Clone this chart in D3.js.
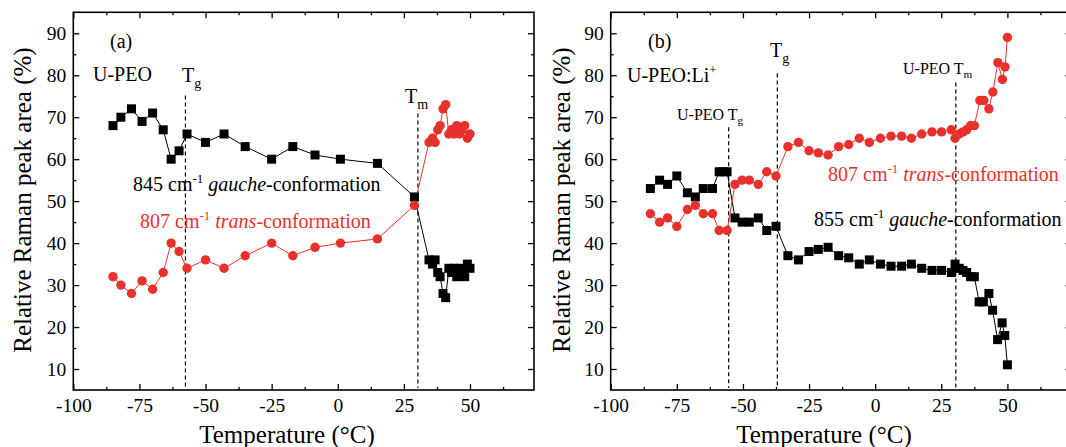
<!DOCTYPE html>
<html><head><meta charset="utf-8">
<script src="https://cdn.jsdelivr.net/npm/d3@7"></script>
<style>
body{margin:0;background:#fff}
svg{display:block}
text{font-family:"Liberation Serif","Times New Roman",serif;fill:#000}
</style>
</head><body>
<svg id="c" width="1066" height="447"></svg>
<script>
// ---------- tick values ----------
const xTicks = [-100, -75, -50, -25, 0, 25, 50];
const xMinor = [-87.5, -62.5, -37.5, -12.5, 12.5, 37.5, 62.5];
const yTicks = [10, 20, 30, 40, 50, 60, 70, 80, 90];
const yMinor = [15, 25, 35, 45, 55, 65, 75, 85];

// ---------- panel (a): U-PEO ----------
const tempA   = [-85, -82, -78, -74, -70, -66, -63, -60, -57, -50, -43, -35, -25, -17, -8.6, 1, 15, 29,
                 34.5, 35.8, 36.8, 37.8, 38.7, 39.8, 40.8, 42, 43, 44, 45, 46, 47, 48, 49, 50];
const gaucheA = [68, 70, 72, 69, 71, 67, 60, 62, 66, 64, 66, 63, 60, 63, 61, 60, 59, 51,
                 36, 35, 36, 33, 32, 28, 27, 34, 33, 34, 32, 34, 33, 32, 35, 34];
const transA  = [32, 30, 28, 31, 29, 33, 40, 38, 34, 36, 34, 37, 40, 37, 39, 40, 41, 49,
                 64, 65, 64, 67, 68, 72, 73, 66, 67, 66, 68, 66, 67, 68, 65, 66];
const vlinesA = [{x: -57.6, top: 75.2}, {x: 30.3, top: 70.9}];

// ---------- panel (b): U-PEO:Li+ ----------
const tempBg  = [-85, -81.5, -78.5, -75, -71, -68, -65, -61.5, -59, -57.5, -56, -53, -50.3, -47.6, -44.2, -41, -37.5,
                 -33, -29, -25, -21.5, -17.8, -13.8, -10, -6, -2.2, 2, 6, 10, 13.7, 17.6, 21.5, 25.1,
                 28.8, 30.2, 31.8, 33.2, 34.6, 36.1, 37.5, 39.3, 40.9, 43, 44.4, 46.3, 48, 49, 50];
const gaucheB = [53, 55, 54, 56, 52, 51, 53, 53, 57, 57, 57, 46, 45, 45, 46, 43, 44,
                 37, 36, 38, 38.5, 39, 37, 36.5, 35, 36, 35, 34.5, 34.5, 35, 34, 33.5, 33.5,
                 33, 35, 34, 33.5, 33, 32, 32, 26, 26, 28, 24, 17, 21, 18, 11];
const tempBt  = [-85, -81.5, -78.5, -75, -71, -68, -65, -61.5, -59, -56, -53, -50.3, -47.6, -44.2, -41, -37.5,
                 -33, -29, -25, -21.5, -17.8, -13.8, -10, -6, -2.2, 2, 6, 10, 13.7, 17.6, 21.5, 25.1,
                 28.8, 30.2, 31.8, 33.2, 34.6, 36.1, 37.5, 39.6, 41.1, 43, 44.5, 46.4, 48.1, 49.1, 50];
const transB  = [47, 45, 46, 44, 48, 49, 47, 47, 43, 43, 54, 55, 55, 54, 57, 56,
                 63, 64, 62, 61.5, 61, 63, 63.5, 65, 64, 65, 65.5, 65.5, 65, 66, 66.5, 66.5,
                 67, 65, 66, 66.5, 67, 68, 68, 74, 74, 72, 76, 83, 79, 82, 89];
const vlinesB = [{x: -55.4, top: 67.6}, {x: -37.0, top: 80.4}, {x: 30.5, top: 78.3}];

const RED = "#e8312c";
const svg = d3.select("#c");
const TOP = 12.3, W = 460.7, H = 377.7;

function panel(left, blackX, blackY, redX, redY, vlines) {
  const x = d3.scaleLinear().domain([-100, 74.2]).range([0, W]);
  const y = d3.scaleLinear().domain([5, 95]).range([H, 0]);
  const g = svg.append("g").attr("transform", `translate(${left},${TOP})`);

  const styleAxis = sel => {
    sel.select(".domain").remove();
    sel.selectAll(".tick line").attr("stroke", "#000").attr("stroke-width", 1.3);
    sel.selectAll(".tick text").attr("font-size", 19.5).attr("font-family", '"Liberation Serif",serif').attr("fill", "#000");
  };
  // bottom
  g.append("g").attr("transform", `translate(0,${H})`)
    .call(d3.axisBottom(x).tickValues(xTicks).tickSize(-6).tickPadding(8).tickFormat(d => String(d))).call(styleAxis);
  g.append("g").attr("transform", `translate(0,${H})`)
    .call(d3.axisBottom(x).tickValues(xMinor).tickSize(-3).tickFormat("")).call(styleAxis);
  // top
  g.append("g").call(d3.axisTop(x).tickValues(xTicks).tickSize(-6).tickFormat("")).call(styleAxis);
  g.append("g").call(d3.axisTop(x).tickValues(xMinor).tickSize(-3).tickFormat("")).call(styleAxis);
  // left
  g.append("g").call(d3.axisLeft(y).tickValues(yTicks).tickSize(-6).tickPadding(7).tickFormat(d => String(d))).call(styleAxis);
  g.append("g").call(d3.axisLeft(y).tickValues(yMinor).tickSize(-3).tickFormat("")).call(styleAxis);
  // right
  g.append("g").attr("transform", `translate(${W},0)`)
    .call(d3.axisRight(y).tickValues(yTicks).tickSize(-6).tickFormat("")).call(styleAxis);
  g.append("g").attr("transform", `translate(${W},0)`)
    .call(d3.axisRight(y).tickValues(yMinor).tickSize(-3).tickFormat("")).call(styleAxis);

  g.append("rect").attr("width", W).attr("height", H)
    .attr("fill", "none").attr("stroke", "#000").attr("stroke-width", 1.6);

  // dashed reference lines
  g.selectAll(".vl").data(vlines).enter().append("line")
    .attr("x1", d => x(d.x)).attr("x2", d => x(d.x))
    .attr("y1", d => y(d.top)).attr("y2", H - 2)
    .attr("stroke", "#000").attr("stroke-width", 1.2).attr("stroke-dasharray", "4,3");

  const line = d3.line().x(d => x(d[0])).y(d => y(d[1]));
  const blk = blackX.map((v, i) => [v, blackY[i]]);
  const red = redX.map((v, i) => [v, redY[i]]);

  g.append("path").datum(blk).attr("d", line).attr("fill", "none").attr("stroke", "#000").attr("stroke-width", 1);
  g.append("path").datum(red).attr("d", line).attr("fill", "none").attr("stroke", RED).attr("stroke-width", 1);

  const s = 9;
  g.selectAll(".sq").data(blk).enter().append("rect")
    .attr("x", d => x(d[0]) - s / 2).attr("y", d => y(d[1]) - s / 2)
    .attr("width", s).attr("height", s).attr("fill", "#000");
  g.selectAll(".ci").data(red).enter().append("circle")
    .attr("cx", d => x(d[0])).attr("cy", d => y(d[1])).attr("r", 4.7).attr("fill", RED);
}

panel(73.3, tempA, gaucheA, tempA, transA, vlinesA);
panel(610.7, tempBg, gaucheB, tempBt, transB, vlinesB);

// ---------- text ----------
function txt(x, y, size, parts, color) {
  const t = svg.append("text").attr("x", x).attr("y", y).attr("font-size", size);
  if (color) t.attr("fill", color).style("fill", color);
  parts.forEach(p => {
    const ts = t.append("tspan").text(p.t);
    if (p.sub) ts.attr("font-size", size * 0.7).attr("dy", size * 0.28);
    if (p.sup) ts.attr("font-size", size * 0.65).attr("dy", -size * 0.42);
    if (p.back) ts.attr("dy", p.back);
    if (p.it) ts.attr("font-style", "italic");
    if (color) ts.style("fill", color);
  });
  return t;
}

// panel (a) labels
txt(110, 48, 20, [{t: "(a)"}]);
txt(93, 81, 20, [{t: "U-PEO"}]);
txt(182, 82, 20, [{t: "T"}, {t: "g", sub: true}]);
txt(405, 103, 20, [{t: "T"}, {t: "m", sub: true}]);
txt(133, 191, 20, [{t: "845 cm"}, {t: "-1", sup: true}, {t: " ", back: 8.4}, {t: "gauche", it: true}, {t: "-conformation"}]);
txt(140, 228, 20, [{t: "807 cm"}, {t: "-1", sup: true}, {t: " ", back: 8.4}, {t: "trans", it: true}, {t: "-conformation"}], RED);

// panel (b) labels
txt(648, 48, 20, [{t: "(b)"}]);
txt(627, 82, 20, [{t: "U-PEO:Li"}, {t: "+", sup: true}]);
txt(770, 57, 20, [{t: "T"}, {t: "g", sub: true}]);
txt(677, 120, 16, [{t: "U-PEO T"}, {t: "g", sub: true}]);
txt(903, 74, 16, [{t: "U-PEO T"}, {t: "m", sub: true}]);
txt(828, 181, 20, [{t: "807 cm"}, {t: "-1", sup: true}, {t: " ", back: 8.4}, {t: "trans", it: true}, {t: "-conformation"}], RED);
txt(814, 226, 20, [{t: "855 cm"}, {t: "-1", sup: true}, {t: " ", back: 8.4}, {t: "gauche", it: true}, {t: "-conformation"}]);

// axis titles
[[31, 287], [570, 824]].forEach(([yx, xx]) => {
  svg.append("text").attr("transform", `translate(${yx},200) rotate(-90)`)
    .attr("text-anchor", "middle").attr("font-size", 25).text("Relative Raman peak area (%)");
  svg.append("text").attr("x", xx).attr("y", 443)
    .attr("text-anchor", "middle").attr("font-size", 25).text("Temperature (°C)");
});
</script>
</body></html>
